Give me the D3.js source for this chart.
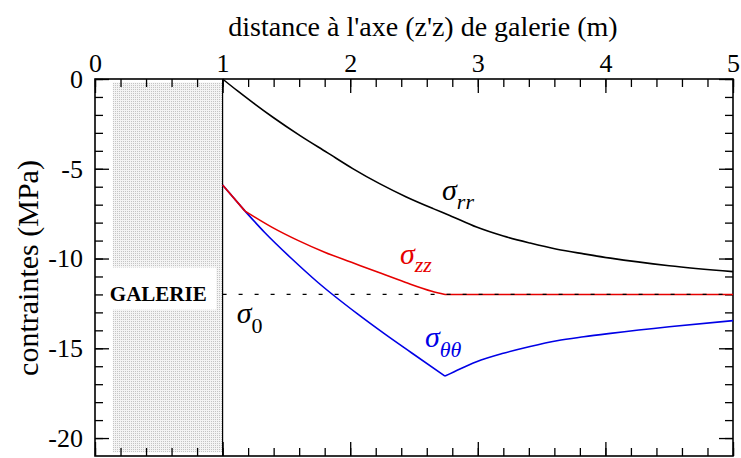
<!DOCTYPE html>
<html>
<head>
<meta charset="utf-8">
<style>
  body { margin: 0; background: #fff; }
  svg { font-family: "Liberation Serif", "Times New Roman", serif; }
  .tick text { font-size: 26px; fill: #000; font-family: "Liberation Serif", serif; }
  .tick line { stroke: #000; stroke-width: 1.3px; }
  .domain { display: none; }
  .curve { fill: none; stroke-width: 1.6px; }
</style>
</head>
<body>
<svg width="741" height="458"></svg>
<script src="https://d3js.org/d3.v7.min.js"></script>
<script>
// values
var xTicks = [0, 1, 2, 3, 4, 5];
var yTicks = [0, -5, -10, -15, -20];

var sigma0 = -12;
var galerie = [0.14, 1]; // shaded gallery zone (x)

// sigma_rr (black)
var xRR   = [1.0, 1.12, 1.24, 1.40, 1.61, 1.82, 2.02, 2.23, 2.44, 2.65, 2.78, 2.99, 3.20, 3.41, 3.62, 3.83, 4.04, 4.5, 5.0];
var sigRR = [0, -0.68, -1.33, -2.16, -3.17, -4.10, -4.99, -5.83, -6.57, -7.22, -7.60, -8.25, -8.75, -9.14, -9.48, -9.74, -9.98, -10.4, -10.73];

// sigma_zz (red)
var xZZ   = [1.0, 1.176, 1.385, 1.59, 1.80, 2.01, 2.22, 2.43, 2.64, 2.743, 5.0];
var sigZZ = [-5.9, -7.36, -8.25, -8.99, -9.65, -10.21, -10.77, -11.32, -11.82, -12.0, -12.0];

// sigma_thetatheta (blue)
var xTT   = [1.0, 1.176, 1.33, 1.54, 1.75, 2.06, 2.27, 2.48, 2.743, 2.86, 2.99, 3.20, 3.41, 3.62, 3.83, 4.04, 4.5, 5.0];
var sigTT = [-5.9, -7.36, -8.55, -10.0, -11.35, -13.1, -14.2, -15.25, -16.55, -16.15, -15.75, -15.28, -14.90, -14.58, -14.36, -14.17, -13.8, -13.46];

// kinks where the curves are not smooth
var kinks = [1.176, 2.743];

var margin = {top: 79, left: 95},
    width = 733 - margin.left,
    height = 456 - margin.top;

var x = d3.scaleLinear().domain([0, 5]).range([0, width]);
var y = d3.scaleLinear().domain([0, -21]).range([0, height]);

var svg = d3.select("svg");
var g = svg.append("g")
    .attr("transform", "translate(" + margin.left + "," + margin.top + ")");

// stipple pattern for the gallery
var defs = svg.append("defs");
var pat = defs.append("pattern")
    .attr("id", "stipple")
    .attr("width", 2).attr("height", 2)
    .attr("patternUnits", "userSpaceOnUse");
pat.append("rect").attr("width", 2).attr("height", 2).attr("fill", "#f4f4f4");
pat.append("rect").attr("width", 1).attr("height", 1).attr("fill", "#c4c4c4");

g.append("rect")
    .attr("x", x(galerie[0]))
    .attr("y", y(-0.2))
    .attr("width", x(galerie[1]) - x(galerie[0]))
    .attr("height", y(-20.8) - y(-0.2))
    .attr("fill", "url(#stipple)");

// white box behind GALERIE
g.append("rect")
    .attr("x", x(galerie[0]) - 1)
    .attr("y", y(-10.5))
    .attr("width", x(0.95) - x(galerie[0]) + 1)
    .attr("height", y(-12.85) - y(-10.5))
    .attr("fill", "#fff");
g.append("text")
    .attr("x", x(galerie[0]) - 3)
    .attr("y", y(-12) + 7)
    .attr("font-size", 21)
    .attr("font-weight", "bold")
    .text("GALERIE");

// wall of the gallery
g.append("line")
    .attr("x1", x(1)).attr("x2", x(1))
    .attr("y1", 0).attr("y2", height)
    .attr("stroke", "#000").attr("stroke-width", 1.2);

// axes
function noLabel() { return ""; }
var xMinor = d3.range(0, 5.01, 0.2), yMinor = d3.range(0, -21, -1);
g.append("g").call(d3.axisTop(x).tickValues(xMinor).tickSize(-8).tickFormat(noLabel));
g.append("g").call(d3.axisTop(x).tickValues(xTicks).tickSize(-14).tickPadding(7).tickFormat(String));
g.append("g").attr("transform", "translate(0," + height + ")")
    .call(d3.axisBottom(x).tickValues(xMinor).tickSize(-8).tickFormat(noLabel));
g.append("g").attr("transform", "translate(0," + height + ")")
    .call(d3.axisBottom(x).tickValues(xTicks).tickSize(-14).tickFormat(noLabel));
g.append("g").call(d3.axisLeft(y).tickValues(yMinor).tickSize(-8).tickFormat(noLabel));
g.append("g").call(d3.axisLeft(y).tickValues(yTicks).tickSize(-14).tickPadding(12).tickFormat(String));
g.append("g").attr("transform", "translate(" + width + ",0)")
    .call(d3.axisRight(y).tickValues(yMinor).tickSize(-8).tickFormat(noLabel));
g.append("g").attr("transform", "translate(" + width + ",0)")
    .call(d3.axisRight(y).tickValues(yTicks).tickSize(-14).tickFormat(noLabel));

g.append("rect")
    .attr("width", width).attr("height", height)
    .attr("fill", "none").attr("stroke", "#000").attr("stroke-width", 1.6);

// curves, smooth between kinks
var line = d3.line()
    .x(function(d) { return x(d[0]); })
    .y(function(d) { return y(d[1]); })
    .curve(d3.curveMonotoneX);

function drawSeries(xs, ys, color) {
  var p = xs.map(function(v, i) { return [v, ys[i]]; });
  var cuts = [xs[0]].concat(kinks.filter(function(k) { return xs.indexOf(k) > 0; }), [xs[xs.length - 1]]);
  for (var i = 0; i < cuts.length - 1; i++) {
    var piece = p.filter(function(d) { return d[0] >= cuts[i] && d[0] <= cuts[i + 1]; });
    g.append("path").attr("class", "curve").attr("stroke", color).attr("d", line(piece));
  }
}
drawSeries(xTT, sigTT, "#0000e6");
drawSeries(xZZ, sigZZ, "#e60000");
drawSeries(xRR, sigRR, "#000");

// sigma_0 dashed line
g.append("line")
    .attr("x1", x(1)).attr("x2", x(5))
    .attr("y1", y(sigma0)).attr("y2", y(sigma0))
    .attr("stroke", "#000").attr("stroke-width", 1.2)
    .attr("stroke-dasharray", "4,12");

// curve labels
function sigmaLabel(xv, yv, sub, color, subItalic, dy) {
  var t = g.append("text")
      .attr("x", x(xv)).attr("y", y(yv))
      .attr("fill", color);
  t.append("tspan").attr("font-size", 30).attr("font-style", "italic").text("σ");
  t.append("tspan").attr("font-size", 22).attr("dy", dy)
      .attr("font-style", subItalic ? "italic" : "normal").text(sub);
}
sigmaLabel(2.72, -6.72, "rr", "#000", true, 9);
sigmaLabel(2.39, -10.33, "zz", "#e60000", true, 8);
sigmaLabel(2.586, -14.94, "θθ", "#0000e6", true, 10);
sigmaLabel(1.11, -13.6, "0", "#000", false, 10);

// axis titles
svg.append("text")
    .attr("x", 423).attr("y", 36)
    .attr("text-anchor", "middle")
    .attr("font-size", 28)
    .text("distance à l'axe (z'z) de galerie (m)");

svg.append("text")
    .attr("transform", "translate(38,268) rotate(-90)")
    .attr("text-anchor", "middle")
    .attr("font-size", 30)
    .text("contraintes (MPa)");
</script>
</body>
</html>
